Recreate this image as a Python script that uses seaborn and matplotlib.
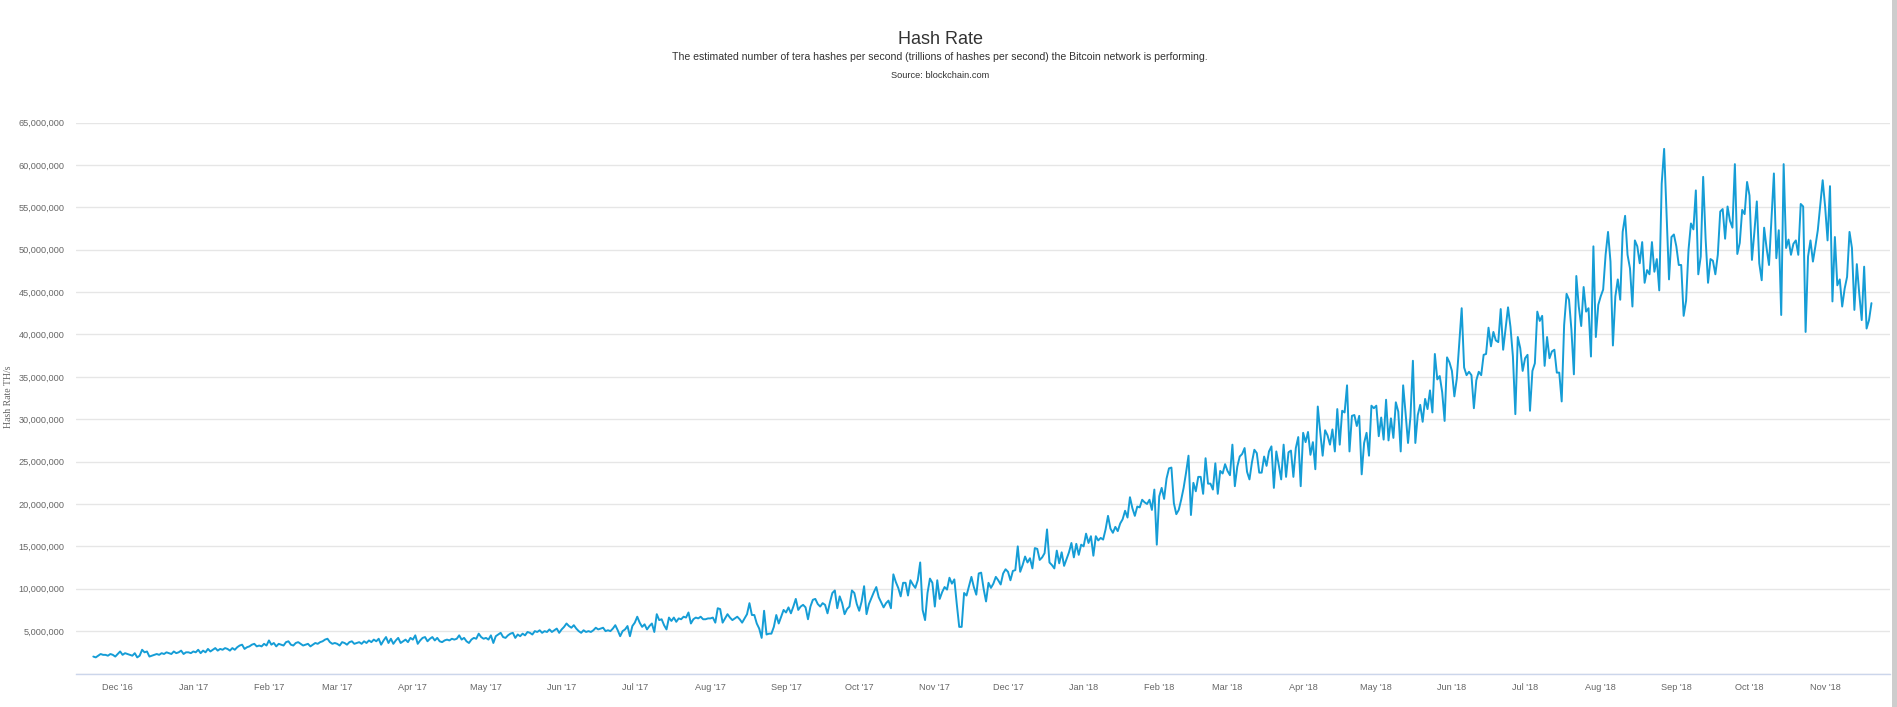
import pandas as pd
import seaborn as sns
import matplotlib.pyplot as plt
from matplotlib.ticker import FuncFormatter, MultipleLocator
from matplotlib.patches import Rectangle

# daily hash rate, in millions of TH/s
nov16 = [2.0, 1.9, 2.1, 2.3, 2.2, 2.2, 2.1, 2.3, 2.2, 2.0]
dec16 = [2.3, 2.6, 2.2, 2.4, 2.3, 2.2, 2.1, 2.4, 1.9, 2.1, 2.8, 2.5, 2.6, 2.0, 2.1, 2.2,
         2.3, 2.2, 2.4, 2.3, 2.5, 2.4, 2.3, 2.6, 2.4, 2.5, 2.7, 2.3, 2.5, 2.5, 2.4]
jan17 = [2.6, 2.5, 2.8, 2.4, 2.7, 2.5, 2.9, 2.6, 2.8, 3.0, 2.7, 2.9, 2.8, 3.0, 2.9, 2.7,
         3.0, 2.8, 3.1, 3.3, 3.4, 2.9, 3.1, 3.2, 3.4, 3.5, 3.2, 3.3, 3.2, 3.5, 3.3]
feb17 = [3.9, 3.4, 3.6, 3.2, 3.5, 3.4, 3.3, 3.7, 3.8, 3.4, 3.3, 3.6, 3.7, 3.5, 3.3, 3.4,
         3.5, 3.2, 3.4, 3.6, 3.5, 3.7, 3.8, 4.0, 4.1, 3.7, 3.5, 3.6]
mar17 = [3.5, 3.3, 3.7, 3.6, 3.4, 3.7, 3.8, 3.5, 3.6, 3.7, 3.5, 3.8, 3.6, 3.9, 3.7, 4.0,
         3.8, 4.1, 3.4, 3.9, 4.3, 3.6, 4.1, 3.5, 3.9, 4.2, 3.6, 3.8, 4.0, 3.7, 4.2]
apr17 = [4.0, 4.5, 3.5, 3.9, 4.2, 4.3, 3.8, 4.1, 4.3, 3.9, 4.2, 3.8, 3.7, 3.9, 4.0, 3.9,
         4.1, 4.0, 4.1, 4.5, 4.0, 4.2, 3.8, 3.6, 4.0, 4.2, 4.1, 4.7, 4.3, 4.1]
may17 = [4.2, 4.0, 4.5, 3.6, 4.4, 4.6, 4.8, 4.3, 4.2, 4.5, 4.7, 4.8, 4.2, 4.6, 4.4, 4.7,
         4.5, 4.9, 4.8, 4.6, 5.0, 4.9, 5.1, 4.8, 5.0, 4.9, 5.2, 4.9, 5.1, 5.3, 4.8]
jun17 = [5.2, 5.5, 5.9, 5.6, 5.4, 5.7, 5.3, 5.0, 4.8, 5.1, 4.9, 5.0, 4.9, 5.1, 5.4, 5.2,
         5.3, 5.4, 5.0, 5.1, 5.0, 5.3, 5.7, 5.1, 4.4, 5.0, 5.2, 5.6, 4.4, 5.6]
jul17 = [6.0, 6.7, 6.0, 5.5, 5.8, 5.2, 5.6, 5.9, 4.9, 7.0, 6.3, 6.4, 5.7, 5.2, 6.6, 6.2,
         6.6, 6.1, 6.5, 6.4, 6.7, 6.6, 7.2, 5.9, 6.4, 6.6, 6.5, 6.7, 6.4, 6.4, 6.5]
aug17 = [6.5, 6.6, 6.0, 7.7, 7.6, 6.0, 6.5, 7.0, 6.6, 6.3, 6.5, 6.7, 6.4, 6.0, 6.5, 7.0,
         8.3, 6.9, 6.9, 5.9, 5.3, 4.2, 7.4, 4.6, 4.7, 4.7, 5.5, 6.9, 5.9, 6.7, 7.5]
sep17 = [7.2, 7.8, 7.1, 7.9, 8.8, 7.5, 7.9, 8.1, 7.8, 6.4, 7.9, 8.7, 8.8, 8.2, 7.9, 8.3,
         8.1, 7.1, 8.4, 9.5, 9.8, 7.7, 9.1, 8.3, 7.0, 7.6, 7.9, 9.8, 9.5, 8.2]
oct17 = [7.4, 8.5, 10.3, 7.0, 8.2, 8.9, 9.6, 10.2, 9.0, 8.4, 7.8, 8.3, 8.6, 7.7, 11.7, 10.8,
         10.1, 9.1, 10.7, 10.7, 9.2, 11.0, 10.5, 10.1, 11.0, 13.1, 7.5, 6.3, 9.5, 11.2, 10.7]
nov17 = [7.9, 11.0, 8.8, 9.6, 10.2, 9.9, 11.3, 10.6, 11.1, 8.2, 5.5, 5.5, 9.5, 9.2, 10.3, 11.4,
         10.2, 9.3, 11.8, 11.9, 10.0, 8.5, 10.7, 10.1, 10.6, 11.4, 11.0, 10.5, 11.8, 12.3]
dec17 = [12.0, 11.0, 12.1, 12.2, 15.0, 12.0, 12.8, 13.8, 13.1, 13.6, 12.4, 14.8, 14.7, 13.4, 13.7, 14.2,
         17.0, 13.1, 12.8, 12.4, 14.5, 13.0, 14.3, 12.7, 13.5, 14.3, 15.4, 13.7, 15.3, 14.0, 15.2]
jan18 = [15.0, 16.5, 15.4, 16.2, 13.9, 16.2, 15.7, 16.0, 15.8, 17.0, 18.6, 17.1, 16.6, 17.3, 16.8, 17.7,
         18.2, 19.2, 18.4, 20.8, 19.5, 18.6, 19.7, 19.6, 20.5, 20.2, 20.0, 20.5, 19.3, 21.7, 15.2]
feb18 = [20.9, 21.9, 20.6, 23.0, 24.2, 24.3, 20.1, 18.8, 19.3, 20.5, 21.9, 23.7, 25.7, 18.7, 22.5, 21.5,
         23.2, 23.2, 21.2, 25.4, 22.4, 22.4, 21.7, 24.8, 21.2, 23.9, 23.6, 24.7]
mar18 = [23.9, 23.4, 27.0, 22.1, 24.4, 25.6, 25.9, 26.6, 23.8, 22.9, 24.9, 26.4, 26.0, 23.7, 23.7, 25.6,
         24.5, 26.2, 26.8, 21.9, 26.2, 24.6, 22.9, 27.0, 23.2, 26.1, 26.3, 23.2, 26.6, 27.9, 22.1]
apr18 = [28.4, 27.3, 28.5, 25.8, 27.3, 24.1, 31.5, 28.5, 25.7, 28.7, 28.1, 27.0, 28.8, 26.2, 31.2, 27.0,
         31.0, 30.8, 34.0, 26.2, 30.4, 30.5, 29.2, 30.4, 23.5, 27.2, 28.4, 25.7, 31.6, 31.3]
may18 = [31.6, 28.0, 30.2, 27.6, 32.3, 27.5, 30.1, 27.8, 32.0, 30.9, 26.2, 34.0, 30.7, 27.2, 30.3, 36.9,
         27.2, 30.5, 31.7, 29.7, 32.4, 31.2, 33.4, 30.8, 37.7, 34.7, 35.1, 33.2, 29.8, 37.3, 36.7]
jun18 = [35.7, 32.7, 34.8, 38.9, 43.1, 36.1, 35.2, 35.6, 35.2, 31.3, 34.6, 35.6, 35.2, 37.6, 37.7, 40.8,
         38.6, 40.3, 39.3, 39.1, 43.0, 38.2, 40.7, 43.2, 40.9, 37.4, 30.6, 39.7, 38.4, 35.7]
jul18 = [37.2, 37.6, 31.0, 35.7, 36.6, 42.7, 41.6, 42.2, 36.3, 39.7, 37.2, 38.0, 38.2, 35.5, 35.5, 32.1,
         41.1, 44.8, 44.1, 40.5, 35.3, 46.9, 43.3, 41.0, 45.6, 42.7, 43.1, 37.4, 50.4, 39.7, 43.5]
aug18 = [44.5, 45.3, 49.4, 52.1, 48.6, 38.7, 44.5, 46.5, 44.1, 52.1, 54.0, 49.4, 47.8, 43.3, 51.1, 50.4,
         48.4, 50.9, 46.1, 47.6, 47.1, 50.9, 47.4, 48.9, 45.2, 57.8, 61.9, 54.3, 46.5, 51.5, 51.8]
sep18 = [50.4, 48.2, 48.2, 42.2, 44.0, 50.0, 53.1, 52.4, 57.0, 47.1, 49.2, 58.6, 51.3, 46.1, 48.9, 48.7,
         47.1, 49.4, 54.5, 54.8, 51.3, 55.1, 53.4, 52.6, 60.1, 49.5, 50.8, 54.7, 54.2, 58.0]
oct18 = [56.4, 48.8, 52.1, 55.7, 48.4, 46.4, 52.6, 50.2, 48.2, 53.6, 59.0, 49.0, 52.3, 42.3, 60.1, 50.2,
         51.2, 49.4, 50.7, 51.1, 49.4, 55.4, 55.1, 40.3, 49.2, 51.1, 48.6, 50.4, 52.3, 55.3, 58.2]
nov18 = [55.1, 51.1, 57.5, 43.9, 51.5, 45.8, 46.5, 43.3, 45.4, 46.8, 52.1, 50.2, 42.9, 48.3, 44.8, 41.7,
         48.0, 40.7, 41.7, 43.7]

months = [nov16, dec16, jan17, feb17, mar17, apr17, may17, jun17, jul17, aug17, sep17, oct17,
          nov17, dec17, jan18, feb18, mar18, apr18, may18, jun18, jul18, aug18, sep18, oct18, nov18]
values = [v * 1e6 for m in months for v in m]
dates = pd.date_range("2016-11-21", periods=len(values), freq="D")
df = pd.DataFrame({"date": dates, "hash_rate": values})

title = "Hash Rate"
subtitle = "The estimated number of tera hashes per second (trillions of hashes per second) the Bitcoin network is performing."
source = "Source: blockchain.com"
y_title = "Hash Rate TH/s"

sns.set_theme(style="white")
plt.rcParams["font.family"] = ["Liberation Sans", "DejaVu Sans"]

W, H = 1897, 707
fig = plt.figure(figsize=(W / 100, H / 100), dpi=100)
ax = fig.add_axes([76 / W, 1 - 673.5 / H, (1890 - 76) / W, (673.5 - 122.6) / H])

sns.lineplot(data=df, x="date", y="hash_rate", ax=ax, color="#159dd6", linewidth=1.4)

# axes limits and ticks
ax.set_xlim(pd.Timestamp("2016-12-01") - pd.Timedelta(days=17.1),
            pd.Timestamp("2016-12-01") + pd.Timedelta(days=726.6))
ax.set_ylim(0, 65e6)
ax.yaxis.set_major_locator(MultipleLocator(5e6))
ax.yaxis.set_major_formatter(FuncFormatter(lambda v, p: "" if v == 0 else f"{v:,.0f}"))
ticks = pd.date_range("2016-12-01", "2018-11-01", freq="MS")
ax.set_xticks(ticks)
ax.set_xticklabels([f"{d:%b} '{d:%y}" for d in ticks])

ax.grid(axis="y", color="#e6e6e6", linewidth=1)
ax.grid(axis="x", visible=False)
for s in ["top", "right", "left"]:
    ax.spines[s].set_visible(False)
ax.spines["bottom"].set_color("#ccd6eb")
ax.spines["bottom"].set_linewidth(1)

ax.tick_params(axis="y", length=0, pad=8.5, labelsize=6.6, labelcolor="#666666")
ax.tick_params(axis="x", length=6, width=1, color="#ccd6eb", pad=0.5,
               labelsize=6.6, labelcolor="#666666")
ax.set_xlabel("")
ax.set_ylabel("")

fig.text(940 / W, 1 - 39 / H, title, ha="center", va="center", fontsize=13, color="#333333")
fig.text(940 / W, 1 - 57 / H, subtitle, ha="center", va="center", fontsize=7.6, color="#333333")
fig.text(940 / W, 1 - 75 / H, source, ha="center", va="center", fontsize=6.7, color="#333333")
fig.text(9 / W, 1 - 397 / H, y_title, ha="center", va="center", rotation=90,
         fontsize=7, color="#666666", family=["Liberation Serif", "DejaVu Serif"])

# browser scrollbar strip on the right edge
fig.patches.append(Rectangle((1892 / W, 0), 5 / W, 1, transform=fig.transFigure,
                             facecolor="#cdcdcd", edgecolor="none"))

fig.savefig("out.png", dpi=100)
